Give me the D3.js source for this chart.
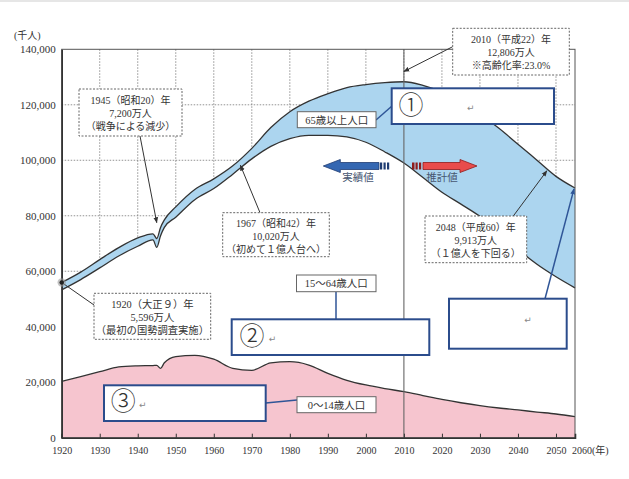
<!DOCTYPE html>
<html lang="ja">
<head>
<meta charset="UTF-8" />
<title>人口の推移</title>
<script src="https://cdn.jsdelivr.net/npm/d3@7"></script>
<style>
  body { margin: 0; background: #fff; }
  svg text { font-family: "Liberation Serif", "Noto Sans CJK JP", serif; fill: #333; }
</style>
</head>
<body>
<script>
// 年ごとの人口（千人）：総人口、65歳未満（0～64歳）、0～14歳
var years = [1920, 1925, 1930, 1935, 1940, 1944, 1945, 1946, 1947, 1950, 1955, 1960, 1965, 1970, 1975,
  1980, 1985, 1990, 1995, 2000, 2005, 2010, 2015, 2020, 2025, 2030, 2035, 2040, 2045, 2050, 2055];
var total = [55960, 59700, 64200, 68500, 72000, 73500, 71800, 75800, 78500, 83200, 89500, 93300, 98000, 104300, 111800,
  117500, 121300, 124000, 126200, 127300, 128000, 128300, 127000, 124600, 121300, 116800, 111500, 105800, 100000, 94200, 90000];
var under65 = [53300, 57000, 61200, 65500, 69000, 71300, 68600, 72800, 75800, 79500, 85800, 89800, 95000, 100500, 105000,
  107800, 109000, 109000, 108400, 106500, 103000, 99000, 93800, 88500, 84200, 79800, 74500, 68000, 62500, 58000, 54000];
var young = [20300, 22000, 23800, 25500, 25900, 26000, 26100, 25000, 27000, 29200, 29700, 28300, 25000, 24300, 27000,
  27400, 26200, 23200, 20700, 19000, 17700, 16600, 15200, 13800, 12600, 11550, 10700, 10000, 9250, 8550, 7600];

var xTicks = [1920, 1930, 1940, 1950, 1960, 1970, 1980, 1990, 2000, 2010, 2020, 2030, 2040, 2050];
var yTicks = [0, 20000, 40000, 60000, 80000, 100000, 120000, 140000];

var svg = d3.select("body").append("svg").attr("width", 629).attr("height", 479);

svg.append("rect").attr("x", 0).attr("y", 0).attr("width", 629).attr("height", 2).attr("fill", "#e6e6e6");

var x = d3.scaleLinear().domain([1920, 2055]).range([61.7, 575]);
var y = d3.scaleLinear().domain([0, 140000]).range([437.7, 49.3]);

var rows = years.map(function (d, i) {
  return { year: d, total: total[i], low: under65[i], young: young[i] };
});

var defs = svg.append("defs");
defs.append("marker").attr("id", "head").attr("viewBox", "0 0 10 10")
  .attr("refX", 9).attr("refY", 5).attr("markerWidth", 6).attr("markerHeight", 6)
  .attr("orient", "auto")
  .append("path").attr("d", "M0,1L10,5L0,9z").attr("fill", "#333");
defs.append("marker").attr("id", "bhead").attr("viewBox", "0 0 10 10")
  .attr("refX", 9).attr("refY", 5).attr("markerWidth", 4).attr("markerHeight", 4)
  .attr("orient", "auto")
  .append("path").attr("d", "M0,1L10,5L0,9z").attr("fill", "#2f5597");

// 点線のグリッド
svg.append("g").selectAll("line").data(xTicks.slice(1)).enter().append("line")
  .attr("x1", function (d) { return x(d); }).attr("x2", function (d) { return x(d); })
  .attr("y1", y(140000)).attr("y2", y(0))
  .attr("stroke", "#777").attr("stroke-width", 0.8).attr("stroke-dasharray", "1.5,1.5");
svg.append("g").selectAll("line").data(yTicks.slice(1, -1)).enter().append("line")
  .attr("x1", x(1920)).attr("x2", x(2055))
  .attr("y1", function (d) { return y(d); }).attr("y2", function (d) { return y(d); })
  .attr("stroke", "#777").attr("stroke-width", 0.8).attr("stroke-dasharray", "1.5,1.5");

var curve = d3.curveMonotoneX;

// 0～14歳
svg.append("path").datum(rows).attr("fill", "#f6c5cf")
  .attr("d", d3.area().curve(curve).x(function (d) { return x(d.year); })
    .y0(y(0)).y1(function (d) { return y(d.young); }));
// 15～64歳
svg.append("path").datum(rows).attr("fill", "#fff")
  .attr("d", d3.area().curve(curve).x(function (d) { return x(d.year); })
    .y0(function (d) { return y(d.young); }).y1(function (d) { return y(d.low); }));
// 65歳以上
svg.append("path").datum(rows).attr("fill", "#acd5ef")
  .attr("d", d3.area().curve(curve).x(function (d) { return x(d.year); })
    .y0(function (d) { return y(d.low); }).y1(function (d) { return y(d.total); }));

["total", "low", "young"].forEach(function (k) {
  svg.append("path").datum(rows).attr("fill", "none").attr("stroke", "#333").attr("stroke-width", 1.3)
    .attr("d", d3.line().curve(curve).x(function (d) { return x(d.year); }).y(function (d) { return y(d[k]); }));
});

// 2010年の縦線
svg.append("line").attr("x1", x(2010)).attr("x2", x(2010)).attr("y1", y(140000)).attr("y2", y(0))
  .attr("stroke", "#666").attr("stroke-width", 1.1);

// 枠
svg.append("rect").attr("x", x(1920)).attr("y", y(140000))
  .attr("width", x(2055) - x(1920)).attr("height", y(0) - y(140000))
  .attr("fill", "none").attr("stroke", "#555").attr("stroke-width", 1);

var xAxis = svg.append("g").attr("transform", "translate(0," + y(0) + ")")
  .call(d3.axisBottom(x).tickValues(xTicks).tickSize(-4).tickPadding(9).tickFormat(d3.format("d")));
xAxis.select(".domain").attr("stroke", "#333").attr("stroke-width", 1.6);
xAxis.selectAll(".tick line").attr("stroke", "#333");
xAxis.selectAll("text").attr("font-size", 10).attr("fill", "#333");

var yAxis = svg.append("g").attr("transform", "translate(" + x(1920) + ",0)")
  .call(d3.axisLeft(y).tickValues(yTicks).tickSize(0).tickPadding(6).tickFormat(d3.format(",")));
yAxis.select(".domain").attr("stroke", "#333").attr("stroke-width", 1.6);
yAxis.selectAll("text").attr("font-size", 11).attr("fill", "#333");

svg.append("text").attr("x", 572).attr("y", 454).attr("font-size", 10).text("2060(年)");
svg.append("text").attr("x", 14).attr("y", 39).attr("font-size", 10).text("(千人)");

// 実績値・推計値の矢印
function bigArrow(x0, x1, dir, fill, edge) {
  var cy = 166, hb = 3.5, hh = 6.5, hl = 17;
  var tip = dir < 0 ? x0 : x1, base = dir < 0 ? x1 : x0, neck = tip - dir * hl;
  svg.append("path")
    .attr("d", "M" + base + "," + (cy - hb) + "L" + neck + "," + (cy - hb) + "L" + neck + "," + (cy - hh) +
      "L" + tip + "," + cy + "L" + neck + "," + (cy + hh) + "L" + neck + "," + (cy + hb) + "L" + base + "," + (cy + hb) + "Z")
    .attr("fill", fill).attr("stroke", edge).attr("stroke-width", 0.8);
  var s = dir < 0 ? [1, 4.5, 8] : [-11, -7.5, -4];
  s.forEach(function (o, i) {
    svg.append("rect").attr("x", base + o).attr("y", cy - hb).attr("width", i == 0 && dir > 0 ? 2.5 : 2.2)
      .attr("height", hb * 2).attr("fill", edge);
  });
}
bigArrow(323.3, 379, -1, "#3467b2", "#1f3c72");
bigArrow(423, 477, 1, "#e94c4b", "#8f1c1c");
svg.append("text").attr("x", 358).attr("y", 180.5).attr("text-anchor", "middle").attr("font-size", 10.5)
  .style("fill", "#46556f").text("実績値");
svg.append("text").attr("x", 442).attr("y", 180.5).attr("text-anchor", "middle").attr("font-size", 10.5)
  .style("fill", "#46556f").text("推計値");

// 注記（点線の枠）
var notes = [
  { lines: ["1945（昭和20）年", "7,200万人", "（戦争による減少）"], size: 10, box: [79, 89, 103, 47], from: [140, 136], to: [1945, 77500] },
  { lines: ["1967（昭和42）年", "10,020万人", "（初めて１億人台へ）"], size: 10, box: [222.7, 212.7, 106.6, 44], from: [260, 212.7], to: [1967, 98200] },
  { lines: ["2010（平成22）年", "12,806万人", "※高齢化率:23.0%"], size: 10, box: [452.7, 28.3, 116.6, 46.7], from: [452.7, 46.7], to: [2010, 132000] },
  { lines: ["2048（平成60）年", "9,913万人", "（１億人を下回る）"], size: 10, box: [425, 216, 101.7, 46.7], from: [513.3, 216], to: [2047.6, 96200] },
  { lines: ["1920（大正９）年", "5,596万人", "（最初の国勢調査実施）"], size: 10.3, box: [94, 293.3, 116.7, 46], from: [94, 305], to: [1920, 55960], dot: true }
];
notes.forEach(function (n) {
  svg.append("line").attr("x1", n.from[0]).attr("y1", n.from[1])
    .attr("x2", x(n.to[0])).attr("y2", y(n.to[1]))
    .attr("stroke", "#333").attr("stroke-width", 1)
    .attr("marker-end", n.dot ? null : "url(#head)");
  if (n.dot) {
    svg.append("circle").attr("cx", x(n.to[0])).attr("cy", y(n.to[1])).attr("r", 4.2).attr("fill", "#9a9a9a").attr("opacity", 0.6);
    svg.append("circle").attr("cx", x(n.to[0])).attr("cy", y(n.to[1])).attr("r", 2.2).attr("fill", "#222");
  }
  svg.append("rect").attr("x", n.box[0]).attr("y", n.box[1]).attr("width", n.box[2]).attr("height", n.box[3])
    .attr("fill", "#fff").attr("stroke", "#666").attr("stroke-width", 1).attr("stroke-dasharray", "2,1.5");
  n.lines.forEach(function (t, i) {
    svg.append("text").attr("x", n.box[0] + n.box[2] / 2).attr("y", n.box[1] + 14.5 + i * 13)
      .attr("text-anchor", "middle").attr("font-size", n.size).text(t);
  });
});

// 青い線
var links = [
  [376, 120, 392, 106],
  [336, 292, 336, 320],
  [265.7, 403, 297, 400]
];
links.forEach(function (l) {
  svg.append("line").attr("x1", l[0]).attr("y1", l[1]).attr("x2", l[2]).attr("y2", l[3])
    .attr("stroke", "#2f5597").attr("stroke-width", 1.5);
});
svg.append("line").attr("x1", 545).attr("y1", 298.7).attr("x2", x(2055) - 1).attr("y2", y(89700))
  .attr("stroke", "#2f5597").attr("stroke-width", 1.5).attr("marker-end", "url(#bhead)");

// 年齢区分ラベル
var ageLabels = [
  { text: "65歳以上人口", box: [297.3, 111.7, 78.7, 16] },
  { text: "15～64歳人口", box: [296.5, 275, 79.5, 16.7] },
  { text: "0～14歳人口", box: [297, 396.7, 79, 16] }
];
ageLabels.forEach(function (a) {
  svg.append("rect").attr("x", a.box[0]).attr("y", a.box[1]).attr("width", a.box[2]).attr("height", a.box[3])
    .attr("fill", "#fff").attr("stroke", "#666").attr("stroke-width", 1);
  svg.append("text").attr("x", a.box[0] + a.box[2] / 2).attr("y", a.box[1] + a.box[3] / 2 + 3.8)
    .attr("text-anchor", "middle").attr("font-size", 10.5).text(a.text);
});

// 記入欄
var blanks = [
  { mark: "①", box: [391.7, 88.3, 162.3, 35.7], m: [411, 105], r: [470.7, 108.3] },
  { mark: "②", box: [231.7, 319.3, 197.6, 35.7], m: [252, 336.7], r: [272.5, 339] },
  { mark: "③", box: [104, 385.3, 161.7, 35.7], m: [123.3, 401.7], r: [142.7, 405] },
  { mark: "", box: [449, 298.7, 117.7, 50], m: [0, 0], r: [528, 320] }
];
blanks.forEach(function (b) {
  svg.append("rect").attr("x", b.box[0]).attr("y", b.box[1]).attr("width", b.box[2]).attr("height", b.box[3])
    .attr("fill", "#fff").attr("stroke", "#2b4c8c").attr("stroke-width", 2);
  if (b.mark) {
    svg.append("text").attr("x", b.m[0]).attr("y", b.m[1] + 8.5).attr("text-anchor", "middle")
      .attr("font-size", 25).style("font-family", "'Noto Sans CJK JP'").style("font-weight", 300).text(b.mark);
  }
  svg.append("text").attr("x", b.r[0]).attr("y", b.r[1] + 3).attr("text-anchor", "middle")
    .attr("font-size", 9).style("font-family", "'DejaVu Sans'").style("fill", "#888").text("↵");
});
</script>
</body>
</html>
